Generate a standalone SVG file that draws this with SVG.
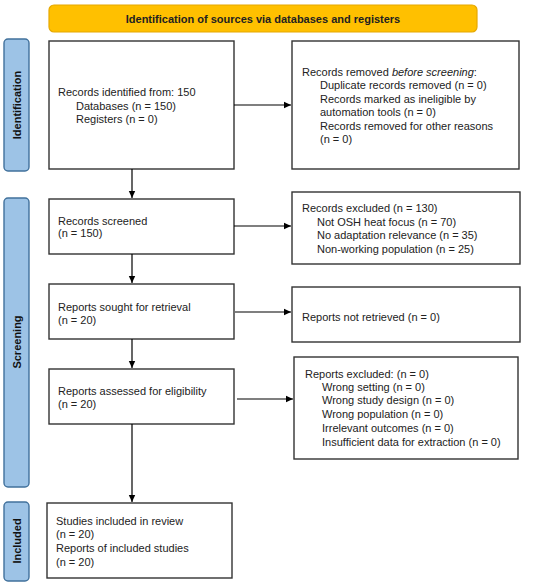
<svg xmlns="http://www.w3.org/2000/svg" width="550" height="585" viewBox="0 0 550 585">
<defs>
<marker id="ah" markerWidth="8" markerHeight="8" refX="7" refY="4" orient="auto" markerUnits="userSpaceOnUse">
<path d="M0,0.8 L7,4 L0,7.2 Z" fill="#000"/>
</marker>
<style>
text{font-family:"Liberation Sans",Arial,sans-serif;font-size:11px;fill:#222}
.box{fill:#fff;stroke:#333;stroke-width:1.4}
.side{fill:#9DC3E6;stroke:#41719C;stroke-width:1.4}
.side-t{font-weight:bold;font-size:11px;fill:#111}
.conn{stroke:#000;stroke-width:1.2;fill:none;marker-end:url(#ah)}
</style>
</defs>
<g id="banner">
<rect x="49" y="5" width="428" height="27" rx="5" fill="#FFC000" stroke="#E6A800" stroke-width="1.2"/>
<text x="263" y="23" text-anchor="middle" style="font-weight:bold">Identification of sources via databases and registers</text>
</g>
<g id="lbl-identification">
<rect class="side" x="4" y="39" width="25" height="132" rx="4"/>
<text class="side-t" transform="translate(20.5,105) rotate(-90)" text-anchor="middle">Identification</text>
</g>
<g id="lbl-screening">
<rect class="side" x="4" y="198" width="25" height="289" rx="4"/>
<text class="side-t" transform="translate(20.5,342) rotate(-90)" text-anchor="middle">Screening</text>
</g>
<g id="lbl-included">
<rect class="side" x="4" y="502" width="25" height="79" rx="4"/>
<text class="side-t" transform="translate(20.5,541) rotate(-90)" text-anchor="middle">Included</text>
</g>
<g id="n-identified">
<rect class="box" x="49" y="41" width="185" height="128"/>
<text x="58" y="96">Records identified from: 150</text>
<text x="76" y="110">Databases (n = 150)</text>
<text x="76" y="123">Registers (n = 0)</text>
</g>
<g id="n-removed">
<rect class="box" x="292" y="41" width="227" height="128"/>
<text x="302" y="76">Records removed <tspan font-style="italic">before screening</tspan>:</text>
<text x="320" y="89">Duplicate records removed (n = 0)</text>
<text x="320" y="103">Records marked as ineligible by</text>
<text x="320" y="116">automation tools (n = 0)</text>
<text x="320" y="130">Records removed for other reasons</text>
<text x="320" y="143">(n = 0)</text>
</g>
<g id="n-screened">
<rect class="box" x="49" y="199" width="185" height="55"/>
<text x="58" y="225">Records screened</text>
<text x="58" y="237">(n = 150)</text>
</g>
<g id="n-excluded">
<rect class="box" x="292" y="192" width="228" height="72"/>
<text x="302" y="212">Records excluded (n = 130)</text>
<text x="317" y="226">Not OSH heat focus (n = 70)</text>
<text x="317" y="239">No adaptation relevance (n = 35)</text>
<text x="317" y="253">Non-working population (n = 25)</text>
</g>
<g id="n-sought">
<rect class="box" x="49" y="284" width="185" height="55"/>
<text x="58" y="311">Reports sought for retrieval</text>
<text x="58" y="324">(n = 20)</text>
</g>
<g id="n-notretrieved">
<rect class="box" x="292" y="287" width="228" height="55"/>
<text x="302" y="321">Reports not retrieved (n = 0)</text>
</g>
<g id="n-assessed">
<rect class="box" x="49" y="369" width="185" height="55"/>
<text x="58" y="395">Reports assessed for eligibility</text>
<text x="58" y="408">(n = 20)</text>
</g>
<g id="n-repexcluded">
<rect class="box" x="294" y="357" width="224" height="102"/>
<text x="305" y="378">Reports excluded: (n = 0)</text>
<text x="322" y="391">Wrong setting (n = 0)</text>
<text x="322" y="404">Wrong study design (n = 0)</text>
<text x="322" y="418">Wrong population (n = 0)</text>
<text x="322" y="432">Irrelevant outcomes (n = 0)</text>
<text x="322" y="446">Insufficient data for extraction (n = 0)</text>
</g>
<g id="n-included">
<rect class="box" x="47" y="503" width="185" height="75"/>
<text x="56" y="525">Studies included in review</text>
<text x="56" y="538">(n = 20)</text>
<text x="56" y="552">Reports of included studies</text>
<text x="56" y="566">(n = 20)</text>
</g>
<g id="connectors">
<line class="conn" x1="234" y1="105" x2="291" y2="105"/>
<line class="conn" x1="132" y1="169" x2="132" y2="198"/>
<line class="conn" x1="234" y1="226" x2="291" y2="226"/>
<line class="conn" x1="132" y1="254" x2="132" y2="283"/>
<line class="conn" x1="235" y1="312" x2="291" y2="312"/>
<line class="conn" x1="132" y1="339" x2="132" y2="368"/>
<line class="conn" x1="237" y1="399" x2="293" y2="399"/>
<line class="conn" x1="132" y1="424" x2="132" y2="502"/>
</g>
</svg>
